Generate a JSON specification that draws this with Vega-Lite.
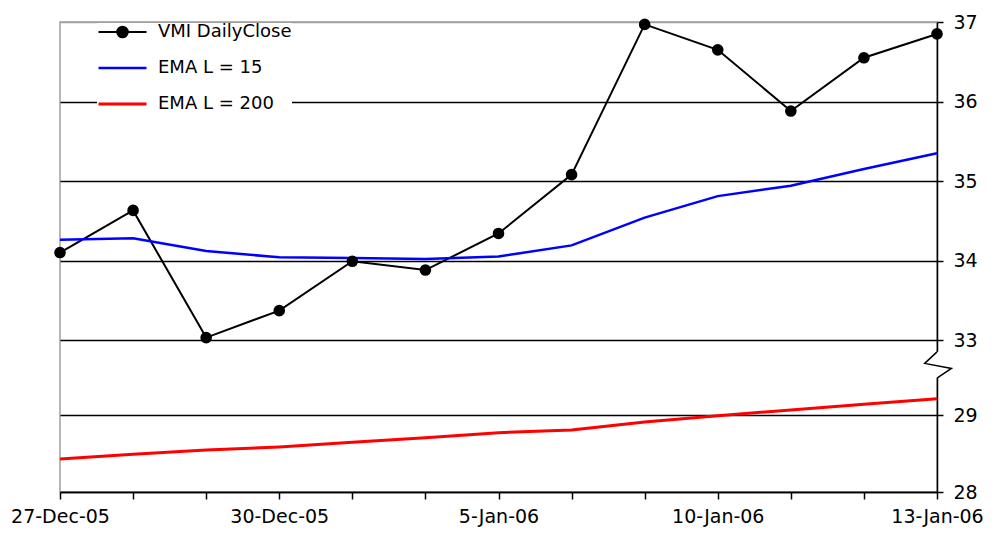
{
  "$schema": "https://vega.github.io/schema/vega-lite/v6.json",
  "width": 877,
  "height": 470,
  "autosize": {"type": "none"},
  "padding": {"left": 60, "top": 22, "right": 68, "bottom": 51},
  "background": "white",
  "config": {
    "font": "DejaVu Sans",
    "view": {"stroke": "#a0a0a0", "strokeWidth": 1.5}
  },
  "datasets": {
    "prices": [
      {"date": "27-Dec-05", "series": "VMI DailyClose", "value": 34.10},
      {"date": "28-Dec-05", "series": "VMI DailyClose", "value": 34.63},
      {"date": "29-Dec-05", "series": "VMI DailyClose", "value": 33.03},
      {"date": "30-Dec-05", "series": "VMI DailyClose", "value": 33.37},
      {"date": "3-Jan-06", "series": "VMI DailyClose", "value": 33.99},
      {"date": "4-Jan-06", "series": "VMI DailyClose", "value": 33.88},
      {"date": "5-Jan-06", "series": "VMI DailyClose", "value": 34.34},
      {"date": "6-Jan-06", "series": "VMI DailyClose", "value": 35.08},
      {"date": "9-Jan-06", "series": "VMI DailyClose", "value": 36.97},
      {"date": "10-Jan-06", "series": "VMI DailyClose", "value": 36.65},
      {"date": "11-Jan-06", "series": "VMI DailyClose", "value": 35.88},
      {"date": "12-Jan-06", "series": "VMI DailyClose", "value": 36.55},
      {"date": "13-Jan-06", "series": "VMI DailyClose", "value": 36.85},
      {"date": "27-Dec-05", "series": "EMA L = 15", "value": 34.26},
      {"date": "28-Dec-05", "series": "EMA L = 15", "value": 34.28},
      {"date": "29-Dec-05", "series": "EMA L = 15", "value": 34.12},
      {"date": "30-Dec-05", "series": "EMA L = 15", "value": 34.04},
      {"date": "3-Jan-06", "series": "EMA L = 15", "value": 34.03},
      {"date": "4-Jan-06", "series": "EMA L = 15", "value": 34.02},
      {"date": "5-Jan-06", "series": "EMA L = 15", "value": 34.05},
      {"date": "6-Jan-06", "series": "EMA L = 15", "value": 34.19},
      {"date": "9-Jan-06", "series": "EMA L = 15", "value": 34.54},
      {"date": "10-Jan-06", "series": "EMA L = 15", "value": 34.81},
      {"date": "11-Jan-06", "series": "EMA L = 15", "value": 34.94},
      {"date": "12-Jan-06", "series": "EMA L = 15", "value": 35.15},
      {"date": "13-Jan-06", "series": "EMA L = 15", "value": 35.35},
      {"date": "27-Dec-05", "series": "EMA L = 200", "value": 28.43},
      {"date": "28-Dec-05", "series": "EMA L = 200", "value": 28.49},
      {"date": "29-Dec-05", "series": "EMA L = 200", "value": 28.545},
      {"date": "30-Dec-05", "series": "EMA L = 200", "value": 28.585},
      {"date": "3-Jan-06", "series": "EMA L = 200", "value": 28.645},
      {"date": "4-Jan-06", "series": "EMA L = 200", "value": 28.705},
      {"date": "5-Jan-06", "series": "EMA L = 200", "value": 28.77},
      {"date": "6-Jan-06", "series": "EMA L = 200", "value": 28.805},
      {"date": "9-Jan-06", "series": "EMA L = 200", "value": 28.91},
      {"date": "10-Jan-06", "series": "EMA L = 200", "value": 28.99},
      {"date": "11-Jan-06", "series": "EMA L = 200", "value": 29.065},
      {"date": "12-Jan-06", "series": "EMA L = 200", "value": 29.14},
      {"date": "13-Jan-06", "series": "EMA L = 200", "value": 29.21}
    ],
    "axisbreak": [
      {"date": "13-Jan-06", "value": 30.6}
    ]
  },
  "encoding": {
    "x": {
      "field": "date",
      "type": "ordinal",
      "scale": {
        "type": "point",
        "padding": 0,
        "domain": ["27-Dec-05", "28-Dec-05", "29-Dec-05", "30-Dec-05", "3-Jan-06", "4-Jan-06", "5-Jan-06", "6-Jan-06", "9-Jan-06", "10-Jan-06", "11-Jan-06", "12-Jan-06", "13-Jan-06"]
      },
      "axis": {
        "title": null,
        "grid": false,
        "domainColor": "black",
        "domainWidth": 1.5,
        "tickColor": "black",
        "tickWidth": 1.5,
        "tickSize": 7,
        "labelAngle": 0,
        "labelFontSize": 19,
        "labelColor": "black",
        "labelPadding": 8,
        "labelOverlap": false,
        "labelFlush": false,
        "labelBound": false,
        "labelExpr": "indexof(['27-Dec-05','30-Dec-05','5-Jan-06','10-Jan-06','13-Jan-06'], datum.value) >= 0 ? datum.value : ''"
      }
    },
    "y": {
      "field": "value",
      "type": "quantitative",
      "scale": {"domain": [28, 29.5, 33, 37], "range": [470, 354.5, 318, 0], "nice": false, "zero": false},
      "axis": {
        "orient": "right",
        "title": null,
        "values": [28, 29, 33, 34, 35, 36, 37],
        "grid": true,
        "gridColor": {"condition": {"test": "datum.value === 37", "value": "#a0a0a0"}, "value": "black"},
        "gridWidth": 1.5,
        "domainColor": "black",
        "domainWidth": 1.5,
        "tickColor": "black",
        "tickWidth": 1.5,
        "tickSize": 6,
        "labelFontSize": 19,
        "labelColor": "black",
        "labelPadding": 10,
        "labelFlush": false
      }
    }
  },
  "layer": [
    {
      "data": {"name": "prices"},
      "mark": {"type": "line"},
      "encoding": {
        "color": {
          "field": "series",
          "type": "nominal",
          "scale": {"domain": ["VMI DailyClose", "EMA L = 15", "EMA L = 200"], "range": ["black", "#0000ff", "#ff0000"]},
          "legend": {
            "title": null,
            "orient": "none",
            "legendX": 37,
            "legendY": 1,
            "padding": 0,
            "fillColor": "white",
            "symbolType": "stroke",
            "symbolSize": 2304,
            "symbolStrokeWidth": 2.5,
            "clipHeight": 18,
            "rowPadding": 18,
            "labelOffset": 10,
            "labelFontSize": 18,
            "labelColor": "black",
            "encode": {
              "symbols": {
                "update": {
                  "shape": {"signal": "datum.value === 'VMI DailyClose' ? 'M-1,0L1,0M-0.22,0A0.22,0.22,0,1,0,0.22,0A0.22,0.22,0,1,0,-0.22,0Z' : 'stroke'"},
                  "fill": {"signal": "datum.value === 'VMI DailyClose' ? 'black' : 'transparent'"},
                  "strokeWidth": {"signal": "datum.value === 'VMI DailyClose' ? 2.2 : 3"}
                }
              }
            }
          }
        },
        "strokeWidth": {
          "field": "series",
          "type": "ordinal",
          "scale": {"domain": ["VMI DailyClose", "EMA L = 15", "EMA L = 200"], "range": [2, 3, 3]},
          "legend": null
        }
      }
    },
    {
      "data": {"name": "prices"},
      "transform": [{"filter": "datum.series === 'VMI DailyClose'"}],
      "mark": {"type": "point", "filled": true, "size": 135, "opacity": 1, "color": "black"}
    },
    {
      "data": {"name": "axisbreak"},
      "mark": {"type": "point", "shape": "M0,-0.88L0,0.87", "size": 900, "filled": false, "stroke": "white", "strokeWidth": 4, "opacity": 1},
      "encoding": {}
    },
    {
      "data": {"name": "axisbreak"},
      "mark": {"type": "point", "shape": "M0,-0.88L-0.82,-0.11L0.96,0.23L0,0.87", "size": 900, "filled": false, "stroke": "black", "strokeWidth": 1.5, "opacity": 1},
      "encoding": {}
    }
  ]
}
